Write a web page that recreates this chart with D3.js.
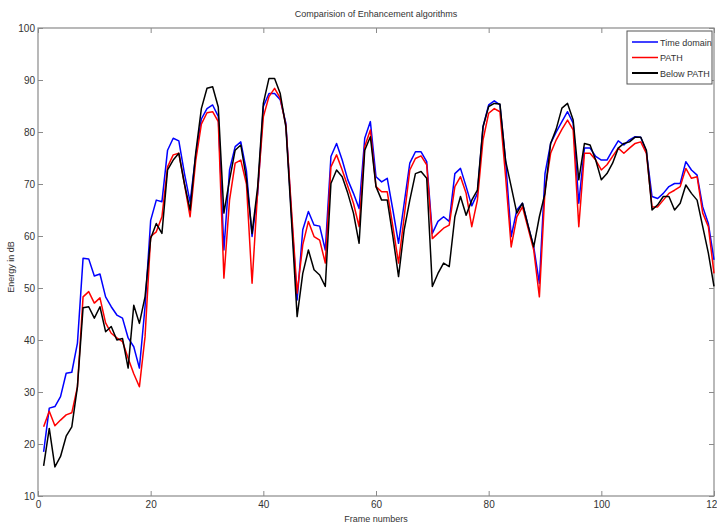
<!DOCTYPE html>
<html>
<head>
<meta charset="utf-8">
<script src="https://cdn.jsdelivr.net/npm/d3@7"></script>
<style>
  body { margin: 0; background: #fff; }
  text { font-family: "Liberation Sans", Arial, sans-serif; }
</style>
</head>
<body>
<div id="chart"></div>
<script>
const timeDomain = [
  18.5, 26.9, 27.2, 29.1, 33.6, 33.8, 39.4, 55.7, 55.6, 52.3,
  52.7, 48.3, 46.4, 44.8, 44.2, 40.4, 38.7, 34.6, 46.4, 63.0,
  66.9, 66.6, 76.5, 78.8, 78.3, 72.0, 66.5, 75.5, 82.5, 84.5,
  85.2, 83.0, 57.3, 72.7, 77.2, 78.1, 72.5, 59.9, 68.2, 84.9,
  87.4, 87.4, 86.2, 81.7, 64.0, 47.7, 61.2, 64.7, 62.1, 61.9,
  57.3, 75.3, 77.8, 74.6, 70.8, 68.2, 65.3, 78.8, 82.0, 71.4,
  70.4, 71.1, 65.0, 58.6, 66.3, 74.0, 76.2, 76.2, 74.3, 60.5,
  62.8, 63.7, 62.8, 72.0, 73.0, 69.5, 65.8, 68.2, 81.0, 85.2,
  86.0, 85.2, 74.5, 59.9, 65.0, 66.3, 62.0, 57.9, 50.9, 72.0,
  77.8, 80.0, 82.0, 83.9, 81.7, 66.3, 76.9, 76.9, 75.3, 74.6,
  74.6, 76.5, 78.3, 77.5, 78.5, 79.1, 79.0, 76.2, 67.6, 67.2,
  68.2, 69.5, 70.1, 70.1, 74.3, 72.7, 71.7, 65.6, 62.4, 55.4
];
const path = [
  23.3, 26.3, 23.5, 24.6, 25.6, 26.0, 31.0, 48.3, 49.3, 47.1,
  48.1, 43.3, 41.3, 40.4, 39.7, 36.5, 33.5, 31.0, 40.6, 59.9,
  60.8, 63.7, 73.3, 75.6, 75.9, 70.0, 63.7, 74.5, 81.5, 83.7,
  83.9, 82.0, 51.9, 66.9, 74.0, 74.6, 70.0, 50.9, 68.8, 82.9,
  86.8, 88.4, 86.5, 81.3, 65.0, 49.0, 58.3, 62.8, 59.9, 59.2,
  54.8, 73.3, 75.6, 72.7, 69.5, 66.3, 61.8, 77.2, 80.4, 69.5,
  68.5, 68.5, 61.8, 54.8, 63.7, 72.7, 74.9, 75.4, 73.7, 59.5,
  60.5, 61.5, 62.1, 69.5, 71.4, 68.2, 61.8, 66.9, 78.5, 83.6,
  84.5, 83.9, 71.5, 57.9, 63.7, 65.6, 61.5, 57.3, 48.3, 68.8,
  75.9, 78.5, 80.5, 82.3, 80.4, 61.8, 75.9, 75.9, 74.6, 72.7,
  73.7, 75.3, 76.9, 75.9, 76.9, 77.8, 78.1, 75.9, 65.6, 65.6,
  66.9, 68.2, 68.8, 69.5, 73.0, 71.1, 71.4, 64.4, 61.8, 52.8
];
const belowPath = [
  15.8, 23.0, 15.6, 17.6, 21.5, 23.3, 31.0, 46.2, 46.4, 44.2,
  46.4, 41.6, 42.6, 40.0, 40.3, 34.6, 46.7, 43.2, 48.3, 59.5,
  62.4, 60.5, 72.7, 74.6, 75.9, 70.0, 65.0, 76.0, 84.5, 88.4,
  88.7, 84.8, 64.4, 70.8, 76.5, 77.5, 71.0, 60.5, 69.5, 85.5,
  90.3, 90.3, 87.4, 81.0, 63.0, 44.5, 52.8, 57.3, 53.5, 52.5,
  50.3, 70.1, 72.7, 71.4, 68.2, 64.4, 58.6, 76.5, 79.1, 69.5,
  66.9, 66.9, 59.9, 52.2, 61.2, 66.9, 72.0, 72.4, 71.1, 50.3,
  52.8, 54.8, 54.1, 63.7, 67.6, 64.0, 66.9, 68.8, 81.0, 84.9,
  85.5, 85.4, 74.5, 69.5, 64.4, 66.3, 62.0, 57.9, 63.7, 68.2,
  77.8, 80.6, 84.6, 85.5, 82.3, 70.8, 77.8, 77.5, 74.6, 70.8,
  72.0, 74.0, 76.9, 77.8, 78.1, 79.0, 79.0, 76.5, 65.0, 66.0,
  67.6, 67.6, 65.0, 66.3, 69.8, 68.2, 66.9, 61.8, 56.7, 50.3
];
const seriesNames = ["Time domain", "PATH", "Below PATH"];
const seriesColors = ["#0000ff", "#ff0000", "#000000"];
const xTicks = [0, 20, 40, 60, 80, 100, 120];
const yTicks = [10, 20, 30, 40, 50, 60, 70, 80, 90, 100];

const width = 717;
const height = 527;
const margin = { top: 28, right: 3, bottom: 31, left: 38 };

const svg = d3
  .select("#chart")
  .append("svg")
  .attr("width", width)
  .attr("height", height);

const x = d3
  .scaleLinear()
  .domain([0, 120])
  .range([margin.left, width - margin.right]);

const y = d3
  .scaleLinear()
  .domain([10, 100])
  .range([height - margin.bottom, margin.top]);

const axisColor = "#8a8a8a";
const textColor = "#333";

// inward ticks on all four sides, like matlab
const styleAxis = g => {
  g.select(".domain").remove();
  g.selectAll(".tick line").attr("stroke", axisColor);
  g.selectAll(".tick text")
    .attr("fill", textColor)
    .style("font-size", "10px");
};

svg
  .append("g")
  .attr("transform", "translate(0," + y(10) + ")")
  .call(d3.axisBottom(x).tickValues(xTicks).tickSize(-5).tickPadding(5))
  .call(styleAxis);

svg
  .append("g")
  .attr("transform", "translate(0," + y(100) + ")")
  .call(d3.axisTop(x).tickValues(xTicks).tickSize(-5).tickFormat(""))
  .call(styleAxis);

svg
  .append("g")
  .attr("transform", "translate(" + x(0) + ",0)")
  .call(d3.axisLeft(y).tickValues(yTicks).tickSize(-5).tickPadding(3))
  .call(styleAxis);

svg
  .append("g")
  .attr("transform", "translate(" + x(120) + ",0)")
  .call(d3.axisRight(y).tickValues(yTicks).tickSize(-5).tickFormat(""))
  .call(styleAxis);

svg
  .append("rect")
  .attr("x", x(0))
  .attr("y", y(100))
  .attr("width", x(120) - x(0))
  .attr("height", y(10) - y(100))
  .attr("fill", "none")
  .attr("stroke", axisColor)
  .attr("stroke-width", 1.2);

const line = d3
  .line()
  .x((d, i) => x(i + 1))
  .y(d => y(d));

[timeDomain, path, belowPath].forEach((data, k) => {
  svg
    .append("path")
    .datum(data)
    .attr("d", line)
    .attr("fill", "none")
    .attr("stroke", seriesColors[k])
    .attr("stroke-width", 1.5)
    .attr("stroke-linejoin", "round");
});

// title and axis labels
svg
  .append("text")
  .attr("x", (x(0) + x(120)) / 2)
  .attr("y", 17)
  .attr("text-anchor", "middle")
  .attr("fill", textColor)
  .style("font-size", "9px")
  .text("Comparision of Enhancement algorithms");

svg
  .append("text")
  .attr("x", (x(0) + x(120)) / 2)
  .attr("y", 522)
  .attr("text-anchor", "middle")
  .attr("fill", textColor)
  .style("font-size", "9px")
  .text("Frame numbers");

svg
  .append("text")
  .attr("transform", "translate(14," + (y(55) + 5) + ") rotate(-90)")
  .attr("text-anchor", "middle")
  .attr("fill", textColor)
  .style("font-size", "9px")
  .text("Energy in dB");

// legend
const legend = svg.append("g").attr("transform", "translate(627,31)");
legend
  .append("rect")
  .attr("width", 85)
  .attr("height", 53)
  .attr("fill", "#fff")
  .attr("stroke", "#555")
  .attr("stroke-width", 1);

seriesNames.forEach((name, k) => {
  const ly = 11 + k * 15.5;
  legend
    .append("line")
    .attr("x1", 5)
    .attr("x2", 31)
    .attr("y1", ly)
    .attr("y2", ly)
    .attr("stroke", seriesColors[k])
    .attr("stroke-width", k === 2 ? 2 : 1.5);
  legend
    .append("text")
    .attr("x", 33)
    .attr("y", ly + 3.5)
    .attr("fill", textColor)
    .style("font-size", "9px")
    .text(name);
});
</script>
</body>
</html>
